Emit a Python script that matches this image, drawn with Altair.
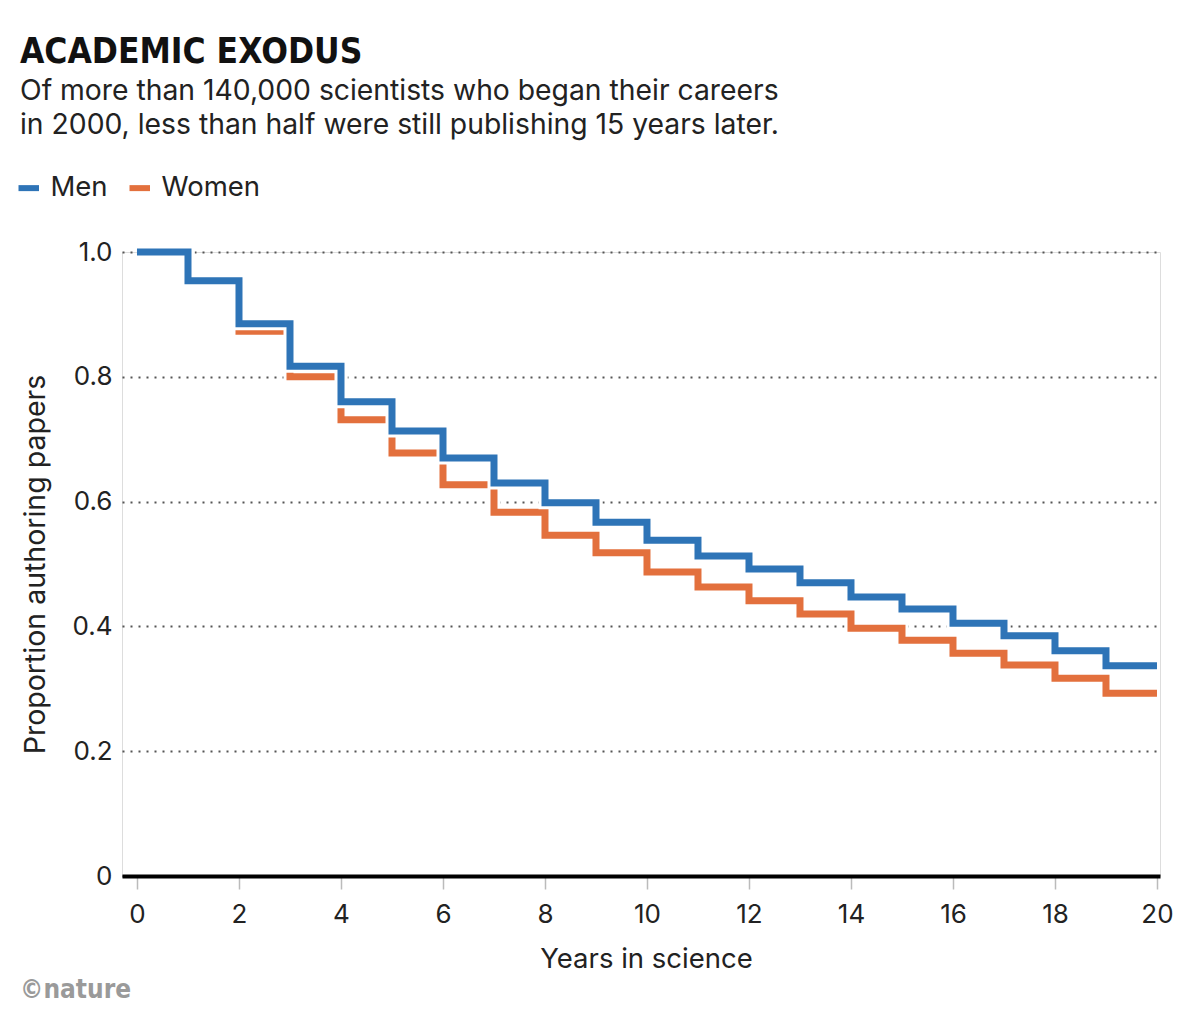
import altair as alt
import pandas as pd

# ---- data ----
years = list(range(0, 21))
men = [1.0, 0.954, 0.885, 0.817, 0.760, 0.713, 0.670, 0.630, 0.598, 0.567, 0.538,
       0.513, 0.492, 0.470, 0.447, 0.428, 0.405, 0.385, 0.361, 0.337, 0.337]
women = [1.0, 0.952, 0.873, 0.800, 0.731, 0.678, 0.627, 0.583, 0.546, 0.518, 0.487,
         0.463, 0.441, 0.420, 0.397, 0.378, 0.357, 0.338, 0.317, 0.293, 0.293]
series = ["Men", "Women"]
x_ticks = list(range(0, 21, 2))
y_ticks = [0, 0.2, 0.4, 0.6, 0.8, 1.0]

title_text = "ACADEMIC EXODUS"
subtitle_lines = ["Of more than 140,000 scientists who began their careers",
                  "in 2000, less than half were still publishing 15 years later."]
x_title = "Years in science"
y_title = "Proportion authoring papers"
credit = "\u00a9nature"

BLUE = "#2e74b7"
ORANGE = "#e3703d"
FONT = "Inter"
COND = "DejaVu Sans Condensed, DejaVu Sans"

df = pd.DataFrame({
    "year": years * 2,
    "value": men + women,
    "sex": ["Men"] * len(years) + ["Women"] * len(years),
})

x = alt.X("year:Q",
          scale=alt.Scale(domain=[-0.294, 20.059], nice=False, zero=False),
          axis=alt.Axis(values=x_ticks, title=x_title, grid=False,
                        domainColor="#000000", domainWidth=4,
                        tickColor="#bbbbbb", tickSize=13, tickWidth=1.5,
                        labelPadding=12, labelFontSize=26, labelFont=FONT,
                        labelColor="#222222", labelFlush=False,
                        titleFontSize=27.5, titleFont=FONT, titleFontWeight="normal",
                        titleColor="#222222", titleX=524, titleY=83,
                        titleBaseline="middle"))
y = alt.Y("value:Q",
          scale=alt.Scale(domain=[0, 1], nice=False),
          axis=alt.Axis(values=y_ticks,
                        labelExpr="datum.value == 0 ? '0' : format(datum.value, '.1f')",
                        domain=False, ticks=False, grid=True,
                        gridColor="#555555", gridDash=[2, 6], gridWidth=2,
                        labelPadding=10, labelFontSize=26, labelFont=FONT,
                        labelColor="#222222",
                        title=y_title, titleFontSize=28.5, titleFont=FONT,
                        titleFontWeight="normal", titleColor="#222222",
                        titleX=-87, titleY=312, titleAlign="center",
                        titleBaseline="middle"))

color = alt.Color("sex:N",
                  scale=alt.Scale(domain=series, range=[BLUE, ORANGE]),
                  legend=alt.Legend(orient="none", legendX=-107, legendY=-78,
                                    direction="horizontal", title=None,
                                    symbolType="stroke", symbolSize=420,
                                    symbolStrokeWidth=6, labelFontSize=27.5,
                                    labelFont=FONT, labelColor="#222222",
                                    labelOffset=8, columnPadding=9))

base = alt.Chart(df).encode(x=x, y=y)


def halo(name):
    return base.transform_filter(f"datum.sex == '{name}'").mark_line(
        interpolate="step-after", stroke="white", strokeWidth=13)


def line(name):
    return base.transform_filter(f"datum.sex == '{name}'").mark_line(
        interpolate="step-after", strokeWidth=7).encode(color=color)


def txt(s, px, py, size, font, weight, col):
    return alt.Chart(pd.DataFrame({"t": [s]})).mark_text(
        align="left", baseline="alphabetic", fontSize=size, font=font,
        fontWeight=weight, color=col).encode(
        x=alt.value(px), y=alt.value(py), text="t:N")


layers = [
    halo("Women"), line("Women"), halo("Men"), line("Men"),
    txt(title_text, -102, -189, 35, COND, "bold", "#111111"),
    txt(subtitle_lines[0], -102, -152, 28.3, FONT, "normal", "#222222"),
    txt(subtitle_lines[1], -102, -118, 28.3, FONT, "normal", "#222222"),
    txt(credit, -102, 746, 26, COND, "bold", "#9a9a9a"),
]

chart = alt.layer(*layers).properties(
    width=1038, height=624,
    padding={"left": 114, "top": 244, "right": 32, "bottom": 131},
    autosize=alt.AutoSizeParams(type="none"),
).configure_view(stroke=None).configure(background="white")

chart.save("out.html", embed_options={"renderer": "svg", "actions": False})
